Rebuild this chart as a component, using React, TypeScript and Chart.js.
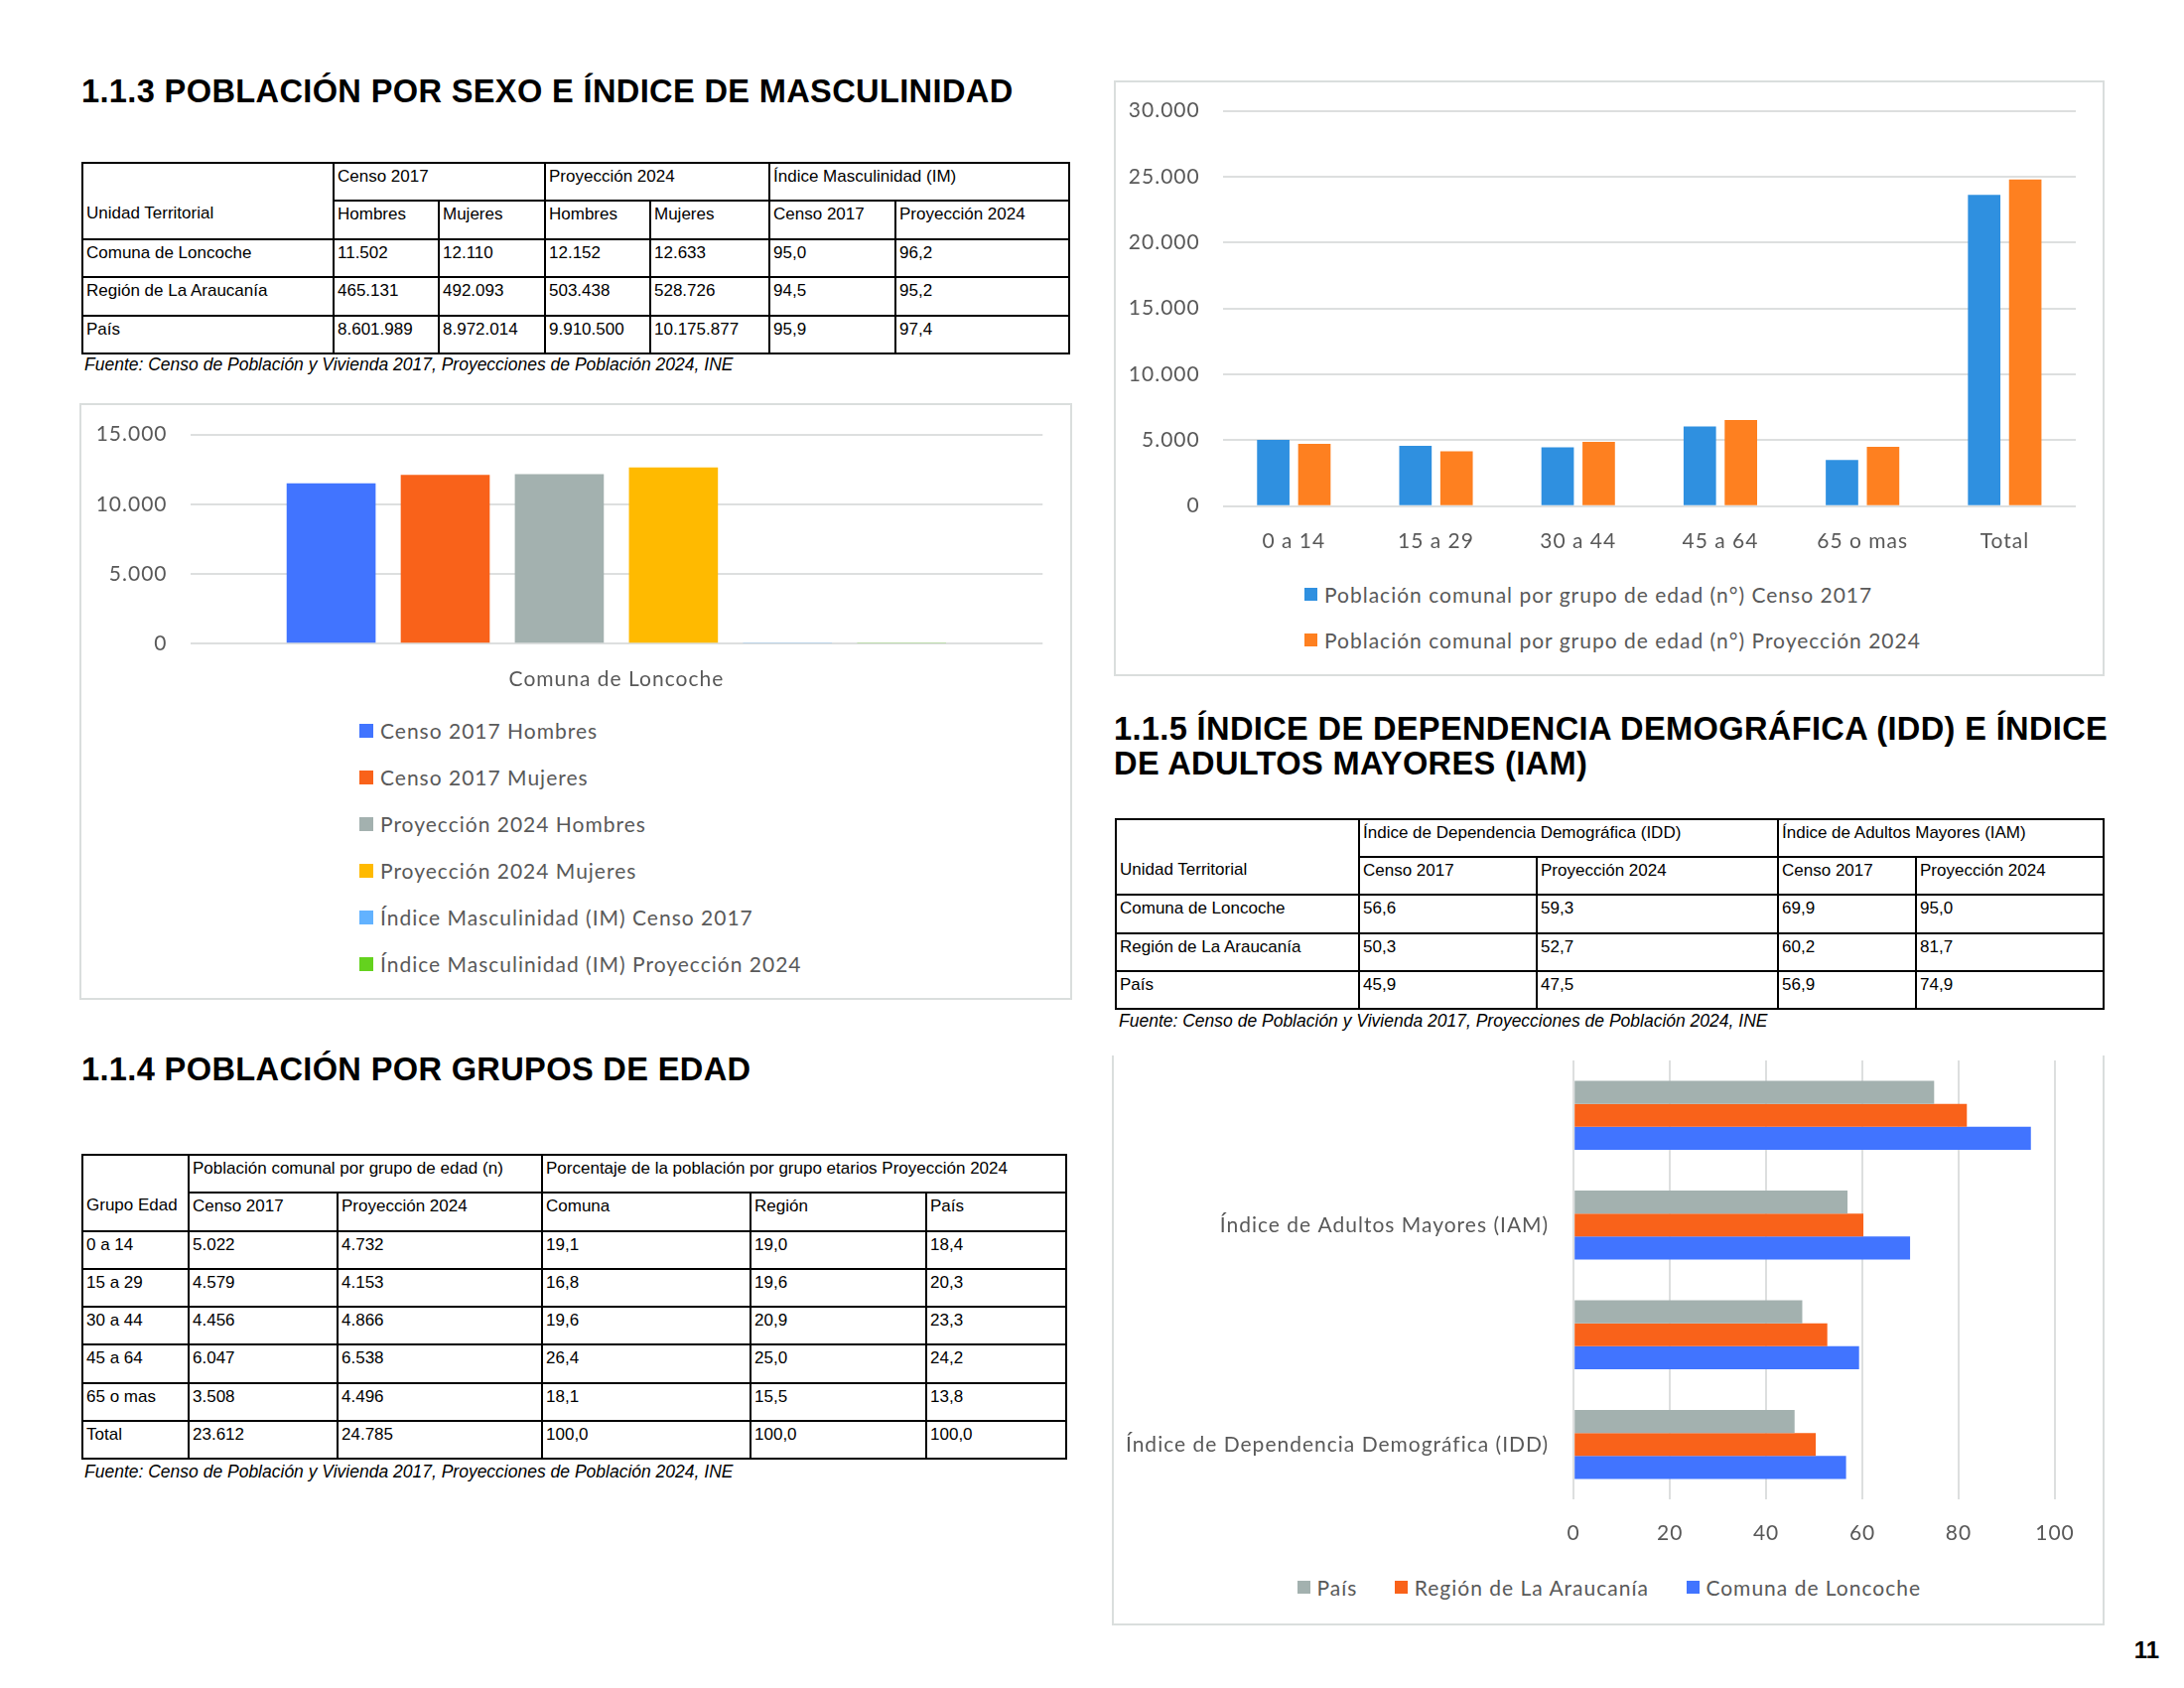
import React, { useEffect, useRef } from 'react';
import { Chart, registerables } from 'chart.js';

Chart.register(...registerables);

// ---------------- DATA ----------------
// 1.1.3 table + chart
const sexoGroupHeaders = ['Censo 2017', 'Proyección 2024', 'Índice Masculinidad (IM)'];
const sexoSubHeaders = ['Unidad Territorial', 'Hombres', 'Mujeres', 'Hombres', 'Mujeres', 'Censo 2017', 'Proyección 2024'];
const sexoRows = [
  ['Comuna de Loncoche', '11.502', '12.110', '12.152', '12.633', '95,0', '96,2'],
  ['Región de La Araucanía', '465.131', '492.093', '503.438', '528.726', '94,5', '95,2'],
  ['País', '8.601.989', '8.972.014', '9.910.500', '10.175.877', '95,9', '97,4'],
];
const sexoCategories = ['Comuna de Loncoche'];
const sexoSeriesLabels = [
  'Censo 2017 Hombres',
  'Censo 2017 Mujeres',
  'Proyección 2024 Hombres',
  'Proyección 2024 Mujeres',
  'Índice Masculinidad (IM) Censo 2017',
  'Índice Masculinidad (IM) Proyección 2024',
];
const censo2017Hombres = [11502];
const censo2017Mujeres = [12110];
const proy2024Hombres = [12152];
const proy2024Mujeres = [12633];
const imCenso2017 = [95.0];
const imProy2024 = [96.2];
const sexoTicks = [0, 5000, 10000, 15000];

// 1.1.4 table + chart
const edadGroupHeaders = ['Población comunal por grupo de edad (n)', 'Porcentaje de la población por grupo etarios Proyección 2024'];
const edadSubHeaders = ['Grupo Edad', 'Censo 2017', 'Proyección 2024', 'Comuna', 'Región', 'País'];
const edadRows = [
  ['0 a 14', '5.022', '4.732', '19,1', '19,0', '18,4'],
  ['15 a 29', '4.579', '4.153', '16,8', '19,6', '20,3'],
  ['30 a 44', '4.456', '4.866', '19,6', '20,9', '23,3'],
  ['45 a 64', '6.047', '6.538', '26,4', '25,0', '24,2'],
  ['65 o mas', '3.508', '4.496', '18,1', '15,5', '13,8'],
  ['Total', '23.612', '24.785', '100,0', '100,0', '100,0'],
];
const edadCategories = ['0 a 14', '15 a 29', '30 a 44', '45 a 64', '65 o mas', 'Total'];
const edadSeriesLabels = [
  'Población comunal por grupo de edad (n°) Censo 2017',
  'Población comunal por grupo de edad (n°) Proyección 2024',
];
const edadCenso2017 = [5022, 4579, 4456, 6047, 3508, 23612];
const edadProy2024 = [4732, 4153, 4866, 6538, 4496, 24785];
const edadTicks = [0, 5000, 10000, 15000, 20000, 25000, 30000];

// 1.1.5 table + chart
const indiceGroupHeaders = ['Índice de Dependencia Demográfica (IDD)', 'Índice de Adultos Mayores (IAM)'];
const indiceSubHeaders = ['Unidad Territorial', 'Censo 2017', 'Proyección 2024', 'Censo 2017', 'Proyección 2024'];
const indiceRows = [
  ['Comuna de Loncoche', '56,6', '59,3', '69,9', '95,0'],
  ['Región de La Araucanía', '50,3', '52,7', '60,2', '81,7'],
  ['País', '45,9', '47,5', '56,9', '74,9'],
];
const indiceCategories = ['', 'Índice de Adultos Mayores (IAM)', '', 'Índice de Dependencia Demográfica (IDD)'];
const indiceSeriesLabels = ['País', 'Región de La Araucanía', 'Comuna de Loncoche'];
const indicePais = [74.9, 56.9, 47.5, 45.9];
const indiceRegion = [81.7, 60.2, 52.7, 50.3];
const indiceComuna = [95.0, 69.9, 59.3, 56.6];
const indiceTicks = [0, 20, 40, 60, 80, 100];

const fuenteText = 'Fuente: Censo de Población y Vivienda 2017, Proyecciones de Población 2024, INE';
const pageNumber = '11';

// ---------------- STYLE ----------------
const COL = {
  blue: '#4174FF',
  orange: '#F9621A',
  gray: '#A3B1AF',
  yellow: '#FFBA00',
  lightBlue: '#62B2FF',
  green: '#64D21E',
  blue2: '#2F90E0',
  orange2: '#FE8020',
  text: '#595959',
  grid: '#DDDFDF',
  frame: '#DADEDD',
};
const CHART_FONT = 'Lato, "Open Sans", sans-serif';
const TABLE_FONT = '"Liberation Sans", Arial, sans-serif';
const LETTER_SPACING = '1px';

const fmtThousands = (v: number) => String(v).replace(/\B(?=(\d{3})+(?!\d))/g, '.');

const spacingPlugin = {
  id: 'letterSpacingPlugin',
  beforeUpdate(chart: any) {
    chart.ctx.letterSpacing = LETTER_SPACING;
  },
  beforeDraw(chart: any) {
    chart.ctx.letterSpacing = LETTER_SPACING;
  },
};

// ---------------- COMPONENTS ----------------
function ChartCanvas(props: { left: number; top: number; width: number; height: number; makeConfig: () => any }) {
  const ref = useRef<HTMLCanvasElement>(null);
  useEffect(() => {
    let chart: Chart | null = null;
    let cancelled = false;
    const create = () => {
      if (cancelled || !ref.current) return;
      chart = new Chart(ref.current, props.makeConfig());
    };
    const fonts: any = (document as any).fonts;
    if (fonts && fonts.load) {
      Promise.all([fonts.load('21px Lato'), fonts.load('bold 21px Lato')]).then(create, create);
    } else {
      create();
    }
    return () => {
      cancelled = true;
      if (chart) chart.destroy();
    };
  }, []);
  return (
    <canvas
      ref={ref}
      width={props.width}
      height={props.height}
      style={{ position: 'absolute', left: props.left, top: props.top, width: props.width, height: props.height }}
    />
  );
}

function Title(props: { left: number; top: number; lines: string[]; lineHeight?: number }) {
  const lh = props.lineHeight ?? 36;
  return (
    <div
      style={{
        position: 'absolute',
        left: props.left,
        top: props.top,
        fontFamily: TABLE_FONT,
        fontWeight: 'bold',
        fontSize: 32.6,
        lineHeight: `${lh}px`,
        letterSpacing: '0.35px',
        color: '#000',
        whiteSpace: 'nowrap',
      }}
    >
      {props.lines.map((l, i) => (
        <div key={i}>{l}</div>
      ))}
    </div>
  );
}

function Fuente(props: { left: number; top: number }) {
  return (
    <div
      style={{
        position: 'absolute',
        left: props.left,
        top: props.top,
        fontFamily: TABLE_FONT,
        fontStyle: 'italic',
        fontSize: 17.5,
        lineHeight: '20px',
        color: '#000',
        whiteSpace: 'nowrap',
      }}
    >
      {fuenteText}
    </div>
  );
}

function DataTable(props: {
  left: number;
  top: number;
  colWidths: number[];
  rowH: number;
  groups: { text: string; span: number }[];
  sub: string[];
  rows: string[][];
}) {
  const total = props.colWidths.reduce((a, b) => a + b, 0);
  const cell = (extra: any = {}) => ({
    border: '2px solid #000',
    padding: '3px 3px 0 3px',
    verticalAlign: 'top',
    textAlign: 'left' as const,
    fontWeight: 'normal' as const,
    whiteSpace: 'nowrap' as const,
    overflow: 'hidden',
    ...extra,
  });
  return (
    <table
      style={{
        position: 'absolute',
        left: props.left,
        top: props.top,
        width: total,
        borderCollapse: 'collapse',
        tableLayout: 'fixed',
        fontFamily: TABLE_FONT,
        fontSize: 17,
        lineHeight: '20px',
        color: '#000',
      }}
    >
      <colgroup>
        {props.colWidths.map((w, i) => (
          <col key={i} style={{ width: w }} />
        ))}
      </colgroup>
      <tbody>
        <tr style={{ height: props.rowH }}>
          <td style={cell({ borderBottom: 'none' })}></td>
          {props.groups.map((g, i) => (
            <td key={i} colSpan={g.span} style={cell()}>
              {g.text}
            </td>
          ))}
        </tr>
        <tr style={{ height: props.rowH }}>
          {props.sub.map((s, i) => (
            <td key={i} style={cell(i === 0 ? { borderTop: 'none' } : {})}>
              {s}
            </td>
          ))}
        </tr>
        {props.rows.map((r, ri) => (
          <tr key={ri} style={{ height: props.rowH }}>
            {r.map((c, ci) => (
              <td key={ci} style={cell()}>
                {c}
              </td>
            ))}
          </tr>
        ))}
      </tbody>
    </table>
  );
}

const legendTextStyle = {
  fontFamily: CHART_FONT,
  fontSize: 21,
  lineHeight: '24px',
  letterSpacing: LETTER_SPACING,
  color: COL.text,
};

function LegendItem(props: { left: number; centerY: number; color: string; label: string; box?: number }) {
  const box = props.box ?? 14;
  return (
    <div style={{ position: 'absolute', left: props.left, top: props.centerY - 12, height: 24, display: 'flex', alignItems: 'center', whiteSpace: 'nowrap' }}>
      <div style={{ width: box, height: box, background: props.color, marginRight: 7, flex: 'none' }} />
      <span style={legendTextStyle}>{props.label}</span>
    </div>
  );
}

// ---------------- CHART CONFIGS ----------------
const tickFont = { family: CHART_FONT, size: 21 };
const fixHeight = (h: number) => (s: any) => {
  s.height = h;
  s.paddingLeft = 0;
  s.paddingRight = 0;
};
const fixWidth = (w: number) => (s: any) => {
  s.width = w;
  s.paddingTop = 0;
  s.paddingBottom = 0;
};

function sexoConfig() {
  const series = [censo2017Hombres, censo2017Mujeres, proy2024Hombres, proy2024Mujeres, imCenso2017, imProy2024];
  const colors = [COL.blue, COL.orange, COL.gray, COL.yellow, COL.lightBlue, COL.green];
  return {
    type: 'bar',
    plugins: [spacingPlugin],
    data: {
      labels: sexoCategories,
      datasets: series.map((d, i) => ({
        label: sexoSeriesLabels[i],
        data: d,
        backgroundColor: colors[i],
        categoryPercentage: 0.803,
        barPercentage: 0.78,
      })),
    },
    options: {
      responsive: false,
      animation: false,
      layout: { padding: { left: 0, right: 29.7, top: 31.6, bottom: 0 } },
      plugins: { legend: { display: false }, tooltip: { enabled: false } },
      scales: {
        x: {
          grid: { display: false },
          border: { display: false },
          ticks: { padding: 15, color: COL.text, font: tickFont },
          afterFit: fixHeight(57.7),
        },
        y: {
          min: 0,
          max: 15000,
          afterBuildTicks: (s: any) => {
            s.ticks = sexoTicks.map((v) => ({ value: v }));
          },
          ticks: { padding: 23, color: COL.text, font: tickFont, callback: (v: any) => fmtThousands(Number(v)) },
          grid: { color: COL.grid, lineWidth: 2, drawTicks: false },
          border: { display: false },
          afterFit: fixWidth(111.5),
        },
      },
    },
  };
}

function edadConfig() {
  return {
    type: 'bar',
    plugins: [spacingPlugin],
    data: {
      labels: edadCategories,
      datasets: [
        { label: edadSeriesLabels[0], data: edadCenso2017, backgroundColor: COL.blue2, categoryPercentage: 0.578, barPercentage: 0.79 },
        { label: edadSeriesLabels[1], data: edadProy2024, backgroundColor: COL.orange2, categoryPercentage: 0.578, barPercentage: 0.79 },
      ],
    },
    options: {
      responsive: false,
      animation: false,
      layout: { padding: { left: 0, right: 29, top: 30.5, bottom: 0 } },
      plugins: { legend: { display: false }, tooltip: { enabled: false } },
      scales: {
        x: {
          grid: { display: false },
          border: { display: false },
          ticks: { padding: 15, color: COL.text, font: tickFont },
          afterFit: fixHeight(71.3),
        },
        y: {
          min: 0,
          max: 30000,
          afterBuildTicks: (s: any) => {
            s.ticks = edadTicks.map((v) => ({ value: v }));
          },
          ticks: { padding: 23, color: COL.text, font: tickFont, callback: (v: any) => fmtThousands(Number(v)) },
          grid: { color: COL.grid, lineWidth: 2, drawTicks: false },
          border: { display: false },
          afterFit: fixWidth(109.7),
        },
      },
    },
  };
}

function indiceConfig() {
  const series = [indicePais, indiceRegion, indiceComuna];
  const colors = [COL.gray, COL.orange, COL.blue];
  return {
    type: 'bar',
    plugins: [spacingPlugin],
    data: {
      labels: indiceCategories,
      datasets: series.map((d, i) => ({
        label: indiceSeriesLabels[i],
        data: d,
        backgroundColor: colors[i],
        categoryPercentage: 0.63,
        barPercentage: 1.0,
      })),
    },
    options: {
      indexAxis: 'y',
      responsive: false,
      animation: false,
      layout: { padding: { left: 0, right: 48, top: 5, bottom: 0 } },
      plugins: { legend: { display: false }, tooltip: { enabled: false } },
      scales: {
        y: {
          grid: { display: false },
          border: { display: false },
          ticks: { padding: 17, color: COL.text, font: tickFont, autoSkip: false },
          afterFit: fixWidth(463.2),
        },
        x: {
          min: 0,
          max: 100,
          afterBuildTicks: (s: any) => {
            s.ticks = indiceTicks.map((v) => ({ value: v }));
          },
          ticks: { padding: 22, color: COL.text, font: tickFont },
          grid: { color: COL.grid, lineWidth: 2, drawTicks: false },
          border: { display: false },
          afterFit: fixHeight(63),
        },
      },
    },
  };
}

// ---------------- APP ----------------
export default function App() {
  const sexoColors = [COL.blue, COL.orange, COL.gray, COL.yellow, COL.lightBlue, COL.green];
  const indiceColors = [COL.gray, COL.orange, COL.blue];
  return (
    <div style={{ position: 'absolute', left: 0, top: 0, width: 2200, height: 1700, background: '#fff', overflow: 'hidden' }}>
      {/* 1.1.3 */}
      <Title left={82} top={74} lines={['1.1.3 POBLACIÓN POR SEXO E ÍNDICE DE MASCULINIDAD']} />
      <DataTable
        left={82}
        top={163}
        colWidths={[253, 106, 107, 106, 120, 127, 175]}
        rowH={38.4}
        groups={sexoGroupHeaders.map((t) => ({ text: t, span: 2 }))}
        sub={sexoSubHeaders}
        rows={sexoRows}
      />
      <Fuente left={85} top={357} />

      {/* chart 1 */}
      <div style={{ position: 'absolute', left: 80, top: 406, width: 1000, height: 601, border: `2px solid ${COL.frame}`, boxSizing: 'border-box' }} />
      <ChartCanvas left={80} top={406} width={1000} height={300} makeConfig={sexoConfig} />
      {sexoSeriesLabels.map((l, i) => (
        <LegendItem key={i} left={362} centerY={735.5 + i * 47} color={sexoColors[i]} label={l} />
      ))}

      {/* 1.1.4 */}
      <Title left={82} top={1059} lines={['1.1.4 POBLACIÓN POR GRUPOS DE EDAD']} />
      <DataTable
        left={82}
        top={1162}
        colWidths={[107, 150, 206, 210, 177, 141]}
        rowH={38.25}
        groups={[
          { text: edadGroupHeaders[0], span: 2 },
          { text: edadGroupHeaders[1], span: 3 },
        ]}
        sub={edadSubHeaders}
        rows={edadRows}
      />
      <Fuente left={85} top={1472} />

      {/* chart 2 */}
      <div style={{ position: 'absolute', left: 1122, top: 81, width: 998, height: 600, border: `2px solid ${COL.frame}`, boxSizing: 'border-box' }} />
      <ChartCanvas left={1122} top={81} width={998} height={500} makeConfig={edadConfig} />
      <LegendItem left={1314} centerY={598.7} color={COL.blue2} label={edadSeriesLabels[0]} box={13} />
      <LegendItem left={1314} centerY={644.5} color={COL.orange2} label={edadSeriesLabels[1]} box={13} />

      {/* 1.1.5 */}
      <Title
        left={1122}
        top={715.5}
        lineHeight={35}
        lines={['1.1.5 ÍNDICE DE DEPENDENCIA DEMOGRÁFICA (IDD) E ÍNDICE', 'DE ADULTOS MAYORES (IAM)']}
      />
      <DataTable
        left={1123}
        top={824}
        colWidths={[245, 179, 243, 139, 189]}
        rowH={38.2}
        groups={indiceGroupHeaders.map((t) => ({ text: t, span: 2 }))}
        sub={indiceSubHeaders}
        rows={indiceRows}
      />
      <Fuente left={1127} top={1018} />

      {/* chart 3 */}
      <div
        style={{
          position: 'absolute',
          left: 1120,
          top: 1063,
          width: 1000,
          height: 574,
          borderLeft: `2px solid ${COL.frame}`,
          borderRight: `2px solid ${COL.frame}`,
          borderBottom: `2px solid ${COL.frame}`,
          boxSizing: 'border-box',
        }}
      />
      <ChartCanvas left={1122} top={1063} width={996} height={510} makeConfig={indiceConfig} />
      <div style={{ position: 'absolute', left: 1122, top: 1586.5, width: 998, height: 24, display: 'flex', justifyContent: 'center', gap: 38 }}>
        {indiceSeriesLabels.map((l, i) => (
          <div key={i} style={{ display: 'flex', alignItems: 'center', whiteSpace: 'nowrap' }}>
            <div style={{ width: 13, height: 13, background: indiceColors[i], marginRight: 6.5 }} />
            <span style={legendTextStyle}>{l}</span>
          </div>
        ))}
      </div>

      {/* page number */}
      <div
        style={{
          position: 'absolute',
          left: 2080,
          top: 1650,
          width: 95,
          textAlign: 'right',
          fontFamily: TABLE_FONT,
          fontWeight: 'bold',
          fontSize: 24,
          lineHeight: '24px',
          color: '#000',
        }}
      >
        {pageNumber}
      </div>
    </div>
  );
}
